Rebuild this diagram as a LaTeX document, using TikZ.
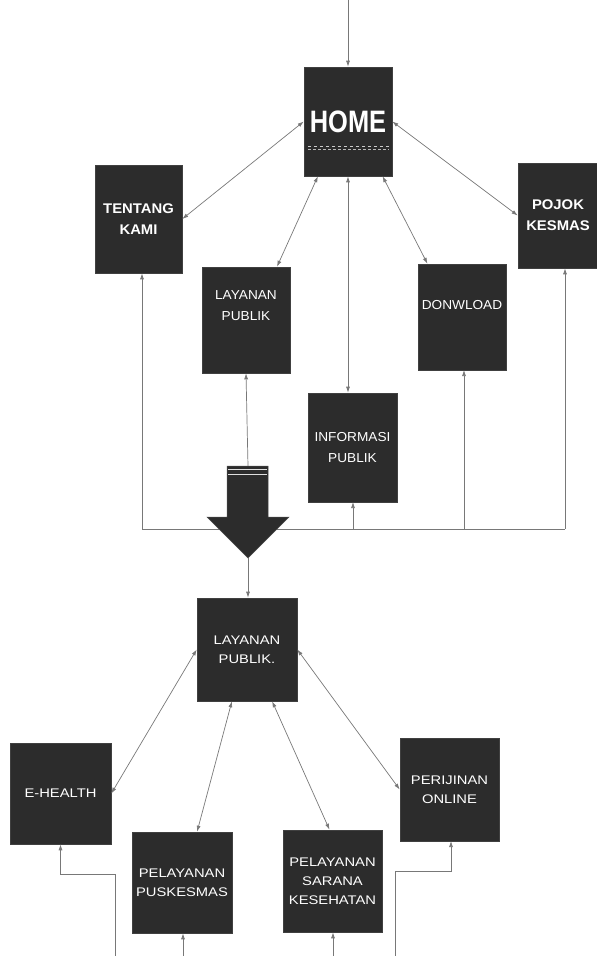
\documentclass[tikz,border=0pt]{standalone}
\usepackage{fontspec}
\setmainfont{Liberation Sans}
\newfontfamily\toplbl{Liberation Sans}[FakeStretch=1.05]
\newfontfamily\boldlbl{Liberation Sans}[FakeStretch=1.06]
\newfontfamily\botlbl{Liberation Sans}[FakeStretch=1.18]
\newfontfamily\homelbl{Liberation Sans}[FakeStretch=0.82]
\usetikzlibrary{arrows.meta,calc}
\definecolor{boxfill}{RGB}{44,44,44}
\definecolor{linegray}{RGB}{120,120,120}
\tikzset{
  menubox/.style={draw=black!75, line width=0.6pt, fill=boxfill, text=white,
    align=center, inner sep=0pt},
  topbox/.style={menubox, font=\toplbl\fontsize{13}{21}\selectfont},
  topboldbox/.style={menubox, font=\boldlbl\bfseries\fontsize{14}{21}\selectfont},
  subbox/.style={menubox, font=\botlbl\fontsize{12.5}{19}\selectfont},
  conn/.style={draw=linegray, line width=0.7pt},
  tip/.style={-{Latex[length=6pt,width=4pt]}},
  both/.style={{Latex[length=6pt,width=4pt]}-{Latex[length=6pt,width=4pt]}},
}
\begin{document}
\begin{tikzpicture}[x=1pt,y=-1pt]
\useasboundingbox (0,0) rectangle (597,956);

% ---------- main menu ----------
\node[menubox, minimum width=88pt, minimum height=109pt,
      font=\homelbl\bfseries\fontsize{31}{31}\selectfont] (home) at (348,121.5) {HOME};
\draw[white!60!gray, line width=0.5pt, dashed] (308,146) -- (389,146);
\draw[white!45!gray, line width=0.4pt, dash pattern=on 3pt off 2pt] (308,149) -- (389,149);

\node[topboldbox, minimum width=87pt, minimum height=108pt] (tentang) at (138.5,219) {TENTANG\\KAMI};
\node[topbox, minimum width=88pt, minimum height=106pt] (lay1) at (246,320) {LAYANAN\\PUBLIK\\[8pt]};
\node[topbox, minimum width=89pt, minimum height=109pt] (info) at (352.5,447.5) {INFORMASI\\PUBLIK};
\node[topbox, minimum width=88pt, minimum height=106pt] (down) at (462,317) {DONWLOAD\\[4pt]};
\node[topboldbox, minimum width=80pt, minimum height=105pt] (pojok) at (558,215.5) {POJOK\\KESMAS};

% entry arrow into HOME
\coordinate (entry) at (348,0);
\draw[conn, tip] (entry) -- (home.north);

% HOME <-> sub pages
\draw[conn, both] (home.west) -- (tentang.east);
\draw[conn, both] ($(home.south west)!0.16!(home.south east)$) -- ($(lay1.north west)!0.85!(lay1.north east)$);
\draw[conn, both] (home.south) -- (home.south |- info.north);
\draw[conn, both] ($(home.south west)!0.89!(home.south east)$) -- ($(down.north west)!0.11!(down.north east)$);
\draw[conn, both] (home.east) -- (pojok.west);

% collecting bus below the pages
\coordinate (busL) at (142,529);
\coordinate (busR) at (565,529);
\draw[conn] (busL) -- (busR);
\draw[conn, tip] (busL) -- (busL |- tentang.south);
\draw[conn, tip] (353,529) -- (353,502);
\draw[conn, tip] (464,529) -- (464,370);
\draw[conn, tip] (busR) -- (busR |- pojok.south);

% big block arrow
\coordinate (bigtop) at (248,466);
\coordinate (bigtip) at (248,558);
\draw[conn, tip] (bigtop) -- (lay1.south);
\fill[boxfill] (227,466) -- (268,466) -- (268,517) -- (289,517) -- (bigtip) -- (207,517) -- (227,517) -- cycle;
\draw[black!70, line width=0.5pt] (227,466) -- (268,466) -- (268,517) -- (289,517) -- (bigtip) -- (207,517) -- (227,517) -- cycle;
\draw[white!75!gray, line width=1pt] (228,469.5) -- (267,469.5);
\draw[white!75!gray, line width=1pt] (228,474) -- (267,474);

% ---------- public service menu ----------
\node[subbox, minimum width=100pt, minimum height=103pt] (lay2) at (247,649.5) {LAYANAN\\PUBLIK.};
\draw[conn, tip] (bigtip) -- (bigtip |- lay2.north);

\node[subbox, minimum width=101pt, minimum height=101pt] (ehealth) at (60.5,793.5) {E-HEALTH};
\node[subbox, minimum width=100pt, minimum height=101pt] (pusk) at (182,882.5) {PELAYANAN\\PUSKESMAS};
\node[subbox, minimum width=99pt, minimum height=102pt] (sarana) at (332.5,881) {PELAYANAN\\SARANA\\KESEHATAN};
\node[subbox, minimum width=99pt, minimum height=103pt] (perijinan) at (449.5,789.5) {PERIJINAN\\ONLINE};

\draw[conn, both] (lay2.west) -- (ehealth.east);
\draw[conn, both] ($(lay2.south west)!0.35!(lay2.south east)$) -- ($(pusk.north west)!0.65!(pusk.north east)$);
\draw[conn, both] ($(lay2.south west)!0.75!(lay2.south east)$) -- ($(sarana.north west)!0.47!(sarana.north east)$);
\draw[conn, both] (lay2.east) -- (perijinan.west);

% feeds coming in from below
\coordinate (feedE) at (115,956);
\coordinate (feedP) at (183,956);
\coordinate (feedS) at (333,956);
\coordinate (feedO) at (395,956);
\draw[conn, tip] (feedE) -- (115,874) -| (ehealth.south);
\draw[conn, tip] (feedP) -- (feedP |- pusk.south);
\draw[conn, tip] (feedS) -- (feedS |- sarana.south);
\draw[conn, tip] (feedO) -- (395,871) -| (451,841);
\end{tikzpicture}
\end{document}
